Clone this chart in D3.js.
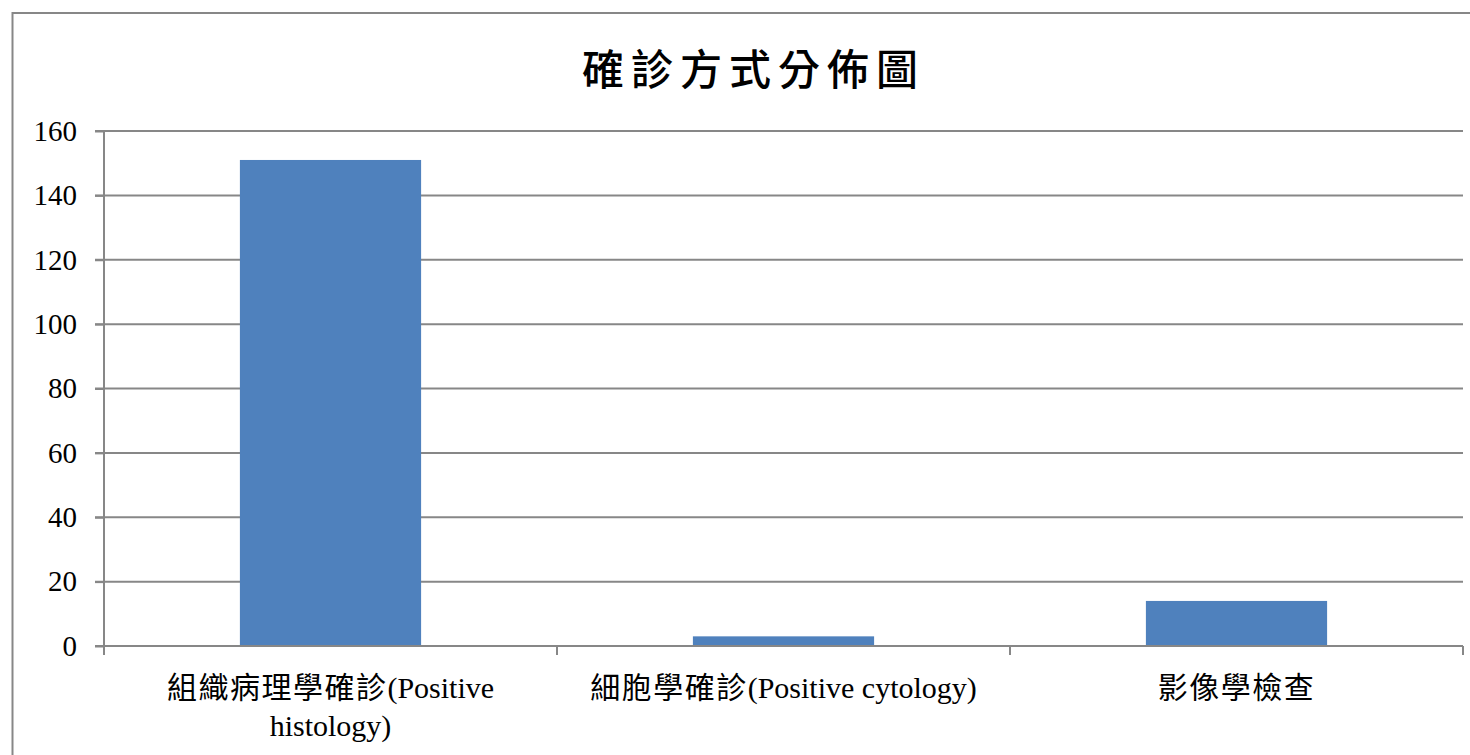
<!DOCTYPE html>
<html><head><meta charset="utf-8">
<script src="https://cdn.jsdelivr.net/npm/d3@7"></script>
<style>body{margin:0;background:#fff;overflow:hidden}</style>
</head><body><svg id="c" width="1470" height="755"></svg>
<script>
const title = "確診方式分佈圖";
const categories = ["組織病理學確診(Positive histology)", "細胞學確診(Positive cytology)", "影像學檢查"];
const categoryLines = [["組織病理學確診(Positive", "histology)"], ["細胞學確診(Positive cytology)"], ["影像學檢查"]];
const values = [151, 3, 14];
const yTicks = [0, 20, 40, 60, 80, 100, 120, 140, 160];

const svg = d3.select("#c");
const m = {left: 104, right: 1463, top: 131, bottom: 646};
const serif = "'Liberation Serif','Times New Roman',serif";
const cjk = "'Liberation Serif','Noto Sans CJK TC',serif";

svg.append("rect").attr("x", 12.5).attr("y", 13).attr("width", 1500).attr("height", 800)
  .attr("fill", "none").attr("stroke", "#878787").attr("stroke-width", 2);

svg.append("text").attr("x", 750 + 3.5).attr("y", 85).attr("text-anchor", "middle")
  .attr("font-family", "'Noto Sans CJK TC',sans-serif").attr("font-size", 42).attr("font-weight", 500)
  .attr("letter-spacing", 7).text(title);

const x = d3.scaleBand().domain(categories).range([m.left, m.right]).paddingInner(0.6).paddingOuter(0.3);
const xo = d3.scaleBand().domain(categories).range([m.left, m.right]);
const y = d3.scaleLinear().domain([0, 160]).range([m.bottom, m.top]);

// gridlines
svg.append("g").selectAll("line").data(yTicks.filter(d => d > 0)).join("line")
  .attr("x1", m.left - 9).attr("x2", m.right).attr("y1", d => y(d)).attr("y2", d => y(d))
  .attr("stroke", "#878787").attr("stroke-width", 2);

// bars
svg.append("g").selectAll("rect").data(values).join("rect")
  .attr("x", (d, i) => x(categories[i])).attr("width", x.bandwidth())
  .attr("y", d => y(d)).attr("height", d => y(0) - y(d))
  .attr("fill", "#4f81bd");

// y axis
const ya = svg.append("g").attr("transform", `translate(${m.left},0)`)
  .call(d3.axisLeft(y).tickValues(yTicks).tickSize(9).tickPadding(18));
ya.select(".domain").attr("stroke", "#878787").attr("stroke-width", 2).attr("d", `M0,${m.top}V${m.bottom}`);
ya.selectAll(".tick line").attr("stroke", "#878787").attr("stroke-width", 2);
ya.selectAll(".tick text").attr("font-family", serif).attr("font-size", 29).attr("fill", "#000");

// x axis baseline & ticks
svg.append("line").attr("x1", m.left - 9).attr("x2", m.right).attr("y1", y(0)).attr("y2", y(0))
  .attr("stroke", "#878787").attr("stroke-width", 2);
const bounds = [m.left].concat(categories.map(c => xo(c) + xo.bandwidth()));
svg.append("g").selectAll("line").data(bounds).join("line")
  .attr("x1", d => d).attr("x2", d => d).attr("y1", y(0)).attr("y2", y(0) + 9)
  .attr("stroke", "#878787").attr("stroke-width", 2);

// category labels
const runs = s => s.match(/[\u4e00-\u9fff]+|[^\u4e00-\u9fff]+/g);
const lab = svg.append("g").selectAll("text").data(categories).join("text")
  .attr("x", c => xo(c) + xo.bandwidth() / 2).attr("y", 698)
  .attr("text-anchor", "middle").attr("font-family", cjk).attr("font-size", 30).attr("fill", "#000");
lab.each(function(c, i) {
  const lines = d3.select(this).selectAll("tspan.line").data(categoryLines[i]).join("tspan").attr("class", "line")
    .attr("x", xo(c) + xo.bandwidth() / 2).attr("dy", (d, j) => j === 0 ? 0 : 38);
  lines.selectAll("tspan.run").data(d => runs(d)).join("tspan").attr("class", "run")
    .attr("letter-spacing", d => /[\u4e00-\u9fff]/.test(d) ? 1.5 : 0).text(d => d);
});
</script></body></html>
